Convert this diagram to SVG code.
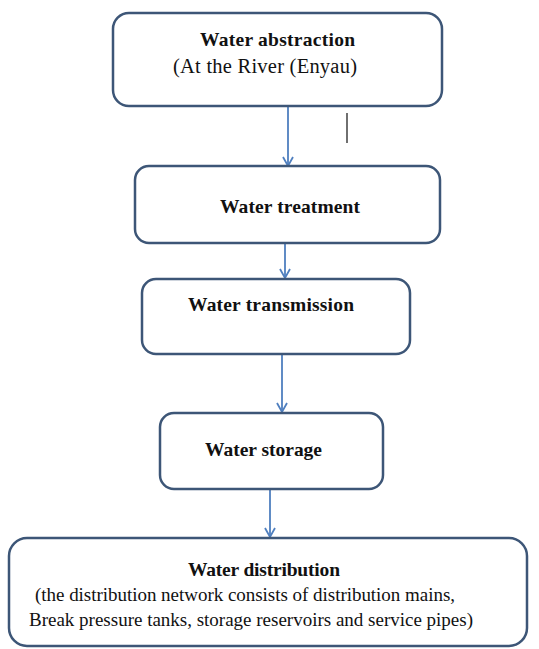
<svg xmlns="http://www.w3.org/2000/svg" width="539" height="649" viewBox="0 0 539 649">
<defs>
<style>
.box{fill:#ffffff;stroke:#3d5677;stroke-width:2.5}
.conn{stroke:#4f7fbf;stroke-width:1.8;fill:none}
.t{font-family:"Liberation Serif","Times New Roman","DejaVu Serif",serif;font-size:19px;fill:#111}
.b{font-weight:bold;font-size:19.5px}
</style>
<marker id="arr" viewBox="0 0 12 12" refX="10" refY="6" markerWidth="12" markerHeight="12" markerUnits="userSpaceOnUse" orient="auto">
<path d="M1,1 L10,6 L1,11" fill="none" stroke="#4f7fbf" stroke-width="1.8"/>
</marker>
</defs>
<rect width="539" height="649" fill="#ffffff"/>
<g id="connectors">
<line class="conn" x1="288" y1="106" x2="288" y2="166" marker-end="url(#arr)"/>
<line class="conn" x1="285" y1="244" x2="285" y2="278" marker-end="url(#arr)"/>
<line class="conn" x1="282" y1="355" x2="282" y2="412" marker-end="url(#arr)"/>
<line class="conn" x1="270" y1="489" x2="270" y2="537" marker-end="url(#arr)"/>
</g>
<line x1="347" y1="113" x2="347" y2="143" stroke="#222" stroke-width="1.3"/>
<g id="n1">
<rect class="box" x="113" y="13" width="329" height="93" rx="16"/>
<text class="t b" x="200" y="46" textLength="155">Water abstraction</text>
<text class="t" x="173" y="73" textLength="184" style="font-size:20.5px">(At the River (Enyau)</text>
</g>
<g id="n2">
<rect class="box" x="135" y="166" width="305" height="77" rx="14"/>
<text class="t b" x="220" y="213" textLength="140">Water treatment</text>
</g>
<g id="n3">
<rect class="box" x="142" y="279" width="268" height="75" rx="14"/>
<text class="t b" x="188" y="311" textLength="166">Water transmission</text>
</g>
<g id="n4">
<rect class="box" x="160" y="413" width="223" height="76" rx="14"/>
<text class="t b" x="205" y="456" textLength="117">Water storage</text>
</g>
<g id="n5">
<rect class="box" x="9" y="538" width="518" height="108" rx="18"/>
<text class="t b" x="188" y="576" textLength="152">Water distribution</text>
<text class="t" x="35" y="601" textLength="420">(the distribution network consists of distribution mains,</text>
<text class="t" x="29" y="626" textLength="444">Break pressure tanks, storage reservoirs and service pipes)</text>
</g>
</svg>
